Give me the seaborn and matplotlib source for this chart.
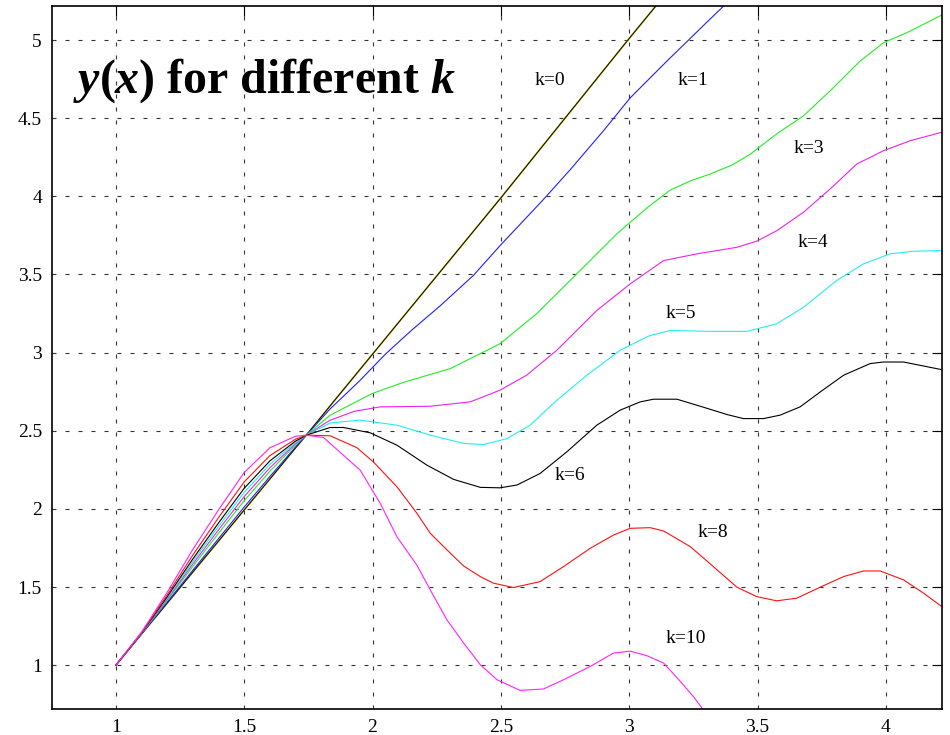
import numpy as np
import pandas as pd
import seaborn as sns
import matplotlib.pyplot as plt

sns.set_style("white")
plt.rcParams["font.family"] = ["Liberation Serif", "DejaVu Serif"]
plt.rcParams["mathtext.fontset"] = "custom"
plt.rcParams["mathtext.rm"] = "Liberation Serif:bold"
plt.rcParams["mathtext.it"] = "Liberation Serif:italic:bold"
plt.rcParams["mathtext.bf"] = "Liberation Serif:bold"
for key in ["text.color", "axes.labelcolor", "xtick.color", "ytick.color"]:
    plt.rcParams[key] = "black"

# shared start of all curves (they fan out, then meet again near x=1.74)
fan_x = [1.0, 1.1, 1.2, 1.3, 1.4, 1.5, 1.6, 1.7, 1.742]
fan_k0 = [1.0, 1.199, 1.397, 1.596, 1.794, 1.993, 2.191, 2.390, 2.472]
fan_k1 = [1.0, 1.200, 1.403, 1.608, 1.810, 2.012, 2.207, 2.396, 2.472]
fan_k3 = [1.0, 1.202, 1.415, 1.632, 1.844, 2.053, 2.241, 2.409, 2.472]
fan_k4 = [1.0, 1.203, 1.422, 1.648, 1.866, 2.079, 2.263, 2.417, 2.472]
fan_k5 = [1.0, 1.205, 1.430, 1.664, 1.888, 2.106, 2.285, 2.425, 2.472]
fan_k6 = [1.0, 1.206, 1.438, 1.680, 1.910, 2.132, 2.307, 2.434, 2.472]
fan_k8 = [1.0, 1.208, 1.450, 1.705, 1.944, 2.173, 2.341, 2.446, 2.472]
fan_k10 = [1.0, 1.211, 1.467, 1.741, 1.994, 2.233, 2.391, 2.465, 2.472]

# rest of each curve
k0_x = [1.85, 2.0, 2.25, 2.5, 2.75, 3.0, 3.1, 3.2]
k0_y = [2.69, 2.99, 3.49, 3.99, 4.50, 5.01, 5.21, 5.41]

k1_x = [1.835, 1.95, 2.05, 2.15, 2.264, 2.393, 2.5, 2.666, 2.77, 2.9, 3.004, 3.15, 3.3, 3.42]
k1_y = [2.64, 2.82, 2.99, 3.14, 3.30, 3.494, 3.69, 3.98, 4.17, 4.42, 4.63, 4.87, 5.11, 5.30]

k3_x = [1.835, 1.998, 2.121, 2.303, 2.381, 2.446, 2.497, 2.64, 2.796, 2.952, 3.004, 3.08,
        3.16, 3.24, 3.316, 3.4, 3.472, 3.575, 3.679, 3.783, 3.90, 3.991, 4.082, 4.218]
k3_y = [2.60, 2.738, 2.81, 2.898, 2.962, 3.015, 3.057, 3.25, 3.504, 3.76, 3.834, 3.94,
        4.04, 4.10, 4.143, 4.20, 4.27, 4.40, 4.515, 4.675, 4.866, 4.983, 5.047, 5.16]

k4_x = [1.835, 1.93, 2.03, 2.225, 2.381, 2.497, 2.60, 2.679, 2.718, 2.874, 3.004, 3.134,
        3.264, 3.42, 3.497, 3.575, 3.679, 3.783, 3.887, 3.991, 4.095, 4.218]
k4_y = [2.568, 2.625, 2.653, 2.657, 2.685, 2.76, 2.855, 2.962, 3.015, 3.27, 3.44, 3.589,
        3.632, 3.674, 3.713, 3.78, 3.898, 4.047, 4.207, 4.292, 4.356, 4.41]

k5_x = [1.835, 1.952, 2.095, 2.225, 2.355, 2.432, 2.524, 2.614, 2.718, 2.835, 2.965, 3.043,
        3.082, 3.16, 3.316, 3.459, 3.575, 3.679, 3.809, 3.913, 4.017, 4.108, 4.218]
k5_y = [2.55, 2.568, 2.536, 2.472, 2.419, 2.412, 2.45, 2.536, 2.695, 2.855, 3.015, 3.08,
        3.11, 3.142, 3.136, 3.136, 3.185, 3.29, 3.462, 3.568, 3.632, 3.649, 3.653]

k6_x = [1.835, 1.887, 1.991, 2.095, 2.212, 2.316, 2.42, 2.497, 2.563, 2.653, 2.757, 2.874,
        2.965, 3.043, 3.095, 3.186, 3.277, 3.381, 3.445, 3.523, 3.588, 3.666, 3.744, 3.835,
        3.939, 3.991, 4.069, 4.218]
k6_y = [2.521, 2.521, 2.487, 2.408, 2.28, 2.189, 2.138, 2.135, 2.153, 2.227, 2.365, 2.536,
        2.632, 2.685, 2.702, 2.702, 2.657, 2.604, 2.578, 2.578, 2.60, 2.653, 2.748, 2.855,
        2.93, 2.94, 2.94, 2.891]

k8_x = [1.835, 1.939, 2.004, 2.095, 2.173, 2.225, 2.29, 2.355, 2.42, 2.471, 2.549, 2.653,
        2.744, 2.848, 2.939, 3.004, 3.082, 3.134, 3.238, 3.328, 3.42, 3.497, 3.575, 3.653,
        3.744, 3.835, 3.913, 3.978, 4.069, 4.147, 4.218]
k8_y = [2.468, 2.392, 2.30, 2.142, 1.972, 1.844, 1.738, 1.635, 1.567, 1.525, 1.497, 1.535,
        1.631, 1.748, 1.833, 1.876, 1.88, 1.859, 1.759, 1.631, 1.499, 1.439, 1.412, 1.429,
        1.499, 1.567, 1.603, 1.603, 1.546, 1.461, 1.375]

k10_x = [1.809, 1.835, 1.952, 2.03, 2.095, 2.173, 2.225, 2.29, 2.355, 2.42, 2.485, 2.575,
         2.666, 2.744, 2.848, 2.939, 3.004, 3.069, 3.134, 3.199, 3.25, 3.30]
k10_y = [2.457, 2.419, 2.248, 2.036, 1.822, 1.64, 1.482, 1.29, 1.142, 1.003, 0.907, 0.839,
         0.848, 0.907, 0.992, 1.078, 1.09, 1.061, 1.014, 0.897, 0.80, 0.69]

k_values = [0, 1, 3, 4, 5, 6, 8, 10]
fans = [fan_k0, fan_k1, fan_k3, fan_k4, fan_k5, fan_k6, fan_k8, fan_k10]
tails_x = [k0_x, k1_x, k3_x, k4_x, k5_x, k6_x, k8_x, k10_x]
tails_y = [k0_y, k1_y, k3_y, k4_y, k5_y, k6_y, k8_y, k10_y]
line_colors = ["#141400", "#2020ff", "#22ee22", "#ee22ee", "#22eeee", "black", "#ff1010", "#ff22ff"]

# label positions
label_x = [2.69, 3.25, 3.70, 3.715, 3.20, 2.77, 3.325, 3.22]
label_y = [4.74, 4.74, 4.305, 3.706, 3.249, 2.211, 1.847, 1.174]

x_ticks = [1, 1.5, 2, 2.5, 3, 3.5, 4]
x_tick_labels = ["1", "1.5", "2", "2.5", "3", "3.5", "4"]
y_ticks = [1, 1.5, 2, 2.5, 3, 3.5, 4, 4.5, 5]
y_tick_labels = ["1", "1.5", "2", "2.5", "3", "3.5", "4", "4.5", "5"]

rows = []
for k, fy, tx, ty in zip(k_values, fans, tails_x, tails_y):
    for xv, yv in zip(fan_x + tx, fy + ty):
        rows.append({"x": xv, "y": yv, "k": "k=%d" % k})
df = pd.DataFrame(rows)
palette = {"k=%d" % k: c for k, c in zip(k_values, line_colors)}

fig = plt.figure(figsize=(9.5, 7.35), dpi=100)
ax = fig.add_axes([0.0544, 0.0354, 0.9375, 0.9569])

# yellowish halo under the k=0 line
sns.lineplot(data=df[df.k == "k=0"], x="x", y="y", color="#d8c800", linewidth=1.2,
             estimator=None, sort=False, ax=ax)
sns.lineplot(data=df, x="x", y="y", hue="k", palette=palette, linewidth=0.8,
             estimator=None, sort=False, legend=False, ax=ax)

for k, lx, ly in zip(k_values, label_x, label_y):
    ax.text(lx, ly, "k=%d" % k, ha="center", va="center", fontsize=14)

ax.text(0.835, 4.662, r"$y(x)$ for different $k$", fontsize=34.5, fontweight="bold",
        ha="left", va="baseline")

ax.set_xlim(0.75, 4.22)
ax.set_ylim(0.72, 5.22)
ax.set_xticks(x_ticks)
ax.set_xticklabels(x_tick_labels)
ax.set_yticks(y_ticks)
ax.set_yticklabels(y_tick_labels)
ax.set_xlabel("")
ax.set_ylabel("")
ax.tick_params(direction="in", length=7, width=0.8, top=True, right=True,
               labelsize=14, pad=7, colors="black")
ax.grid(True, color="0.2", linestyle=(0, (3.6, 8.1)), linewidth=0.8)
ax.set_axisbelow(True)
for s in ax.spines.values():
    s.set_visible(True)
    s.set_color("black")
    s.set_linewidth(1.2)

fig.savefig("out.png", dpi=100)
